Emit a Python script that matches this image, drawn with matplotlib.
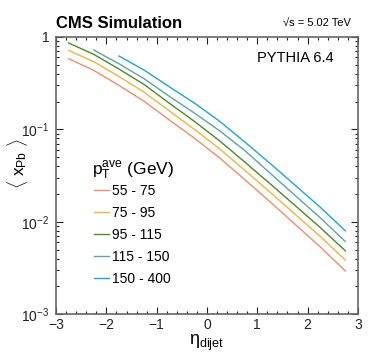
import matplotlib
matplotlib.use('Agg')

import matplotlib.pyplot as plt
from matplotlib.ticker import FixedLocator, LogLocator, MultipleLocator, NullFormatter

plt.rcParams['font.family'] = ['Liberation Sans', 'DejaVu Sans']
plt.rcParams['mathtext.fontset'] = 'custom'
plt.rcParams['mathtext.rm'] = 'Liberation Sans'
plt.rcParams['mathtext.it'] = 'Liberation Sans:italic'
plt.rcParams['mathtext.bf'] = 'Liberation Sans:bold'

# dijet pseudorapidity bin centres
eta = [-2.75, -2.25, -1.75, -1.25, -0.75, -0.25, 0.25, 0.75, 1.25, 1.75, 2.25, 2.75]

# <x_Pb> per pT^ave bin
x_55_75 = [0.581, 0.435, 0.299, 0.2015, 0.1265, 0.0802, 0.0491, 0.0286, 0.0165, 0.00939, 0.00535, 0.00293]
x_75_95 = [0.717, 0.539, 0.373, 0.2525, 0.1585, 0.100, 0.0615, 0.0361, 0.0210, 0.01206, 0.00694, 0.00384]
x_95_115 = [0.861, 0.648, 0.450, 0.306, 0.1921, 0.1219, 0.0752, 0.0443, 0.0259, 0.0150, 0.00867, 0.00484]
x_115_150 = [0.722, 0.513, 0.353, 0.228, 0.150, 0.0966, 0.0591, 0.0337, 0.0193, 0.01105, 0.00611]
x_150_400 = [0.623, 0.438, 0.289, 0.1927, 0.1225, 0.0731, 0.0430, 0.0249, 0.01438, 0.00798]

labels = ['55 - 75', '75 - 95', '95 - 115', '115 - 150', '150 - 400']
series = [x_55_75, x_75_95, x_95_115, x_115_150, x_150_400]
colors = ['#f78a6c', '#fbb03b', '#4d8c1f', '#5aa6aa', '#1ca6dc']

fig = plt.figure(figsize=(3.74, 3.59), dpi=100)
ax = fig.add_axes([0.150, 0.125, 0.807, 0.772])

for vals, lab, col in zip(series, labels, colors):
    # higher pT bins start at larger eta
    ax.plot(eta[len(eta) - len(vals):], vals, color=col, lw=1.0, label=lab)

ax.set_xlim(-3, 3)
ax.set_yscale('log')
ax.set_ylim(1e-3, 1)

ax.xaxis.set_minor_locator(MultipleLocator(0.2))
ax.set_xticks([-3, -2, -1, 0, 1, 2, 3])
ax.set_xticklabels(['\u22123', '\u22122', '\u22121', '0', '1', '2', '3'])

ax.yaxis.set_major_locator(FixedLocator([1e-3, 1e-2, 1e-1, 1]))
ax.yaxis.set_minor_locator(LogLocator(base=10, subs=range(2, 10)))
ax.yaxis.set_minor_formatter(NullFormatter())
ax.set_yticklabels([r'$10^{-3}$', r'$10^{-2}$', r'$10^{-1}$', '1'])

ax.tick_params(which='both', direction='in', top=True, right=True,
               labelsize=10, colors='#222222')
ax.tick_params(axis='y', pad=5)
ax.tick_params(axis='x', pad=3)
ax.tick_params(which='major', length=5, width=0.8)
ax.tick_params(which='minor', length=2.5, width=0.8)
for sp in ax.spines.values():
    sp.set_color('#666666')
    sp.set_linewidth(1.2)

fig.text(0.150, 1 - 28 / 359, 'CMS Simulation', fontsize=12, fontweight='bold',
         ha='left', va='baseline')
fig.text(0.938, 1 - 26 / 359, '\u221as = 5.02 TeV', fontsize=8,
         ha='right', va='baseline')
ax.text(0.92, 0.91, 'PYTHIA 6.4', fontsize=10.5, ha='right', va='baseline',
        transform=ax.transAxes)

fig.text(207 / 374, 1 - 345 / 359, '\u03b7$_{\\mathrm{dijet}}$', fontsize=13,
         ha='center', va='baseline')
fig.text(17 / 374, 1 - 164 / 359, r'$\langle\ \mathrm{x}_{\mathrm{Pb}}\ \rangle$',
         fontsize=12.5, ha='center', va='center', rotation=90)

# legend header drawn as its own text, entries below it
fig.text(92 / 374, 1 - 175 / 359, r'p$_{\mathrm{T}}^{\mathrm{ave}}$ (GeV)',
         fontsize=12.5, ha='left', va='baseline')
ax.legend(loc='upper left', bbox_to_anchor=(0.125, 0.47), frameon=False,
          fontsize=10, handlelength=1.1, handletextpad=0.2,
          labelspacing=0.58, borderaxespad=0, borderpad=0)

fig.savefig('out.png', dpi=100)
